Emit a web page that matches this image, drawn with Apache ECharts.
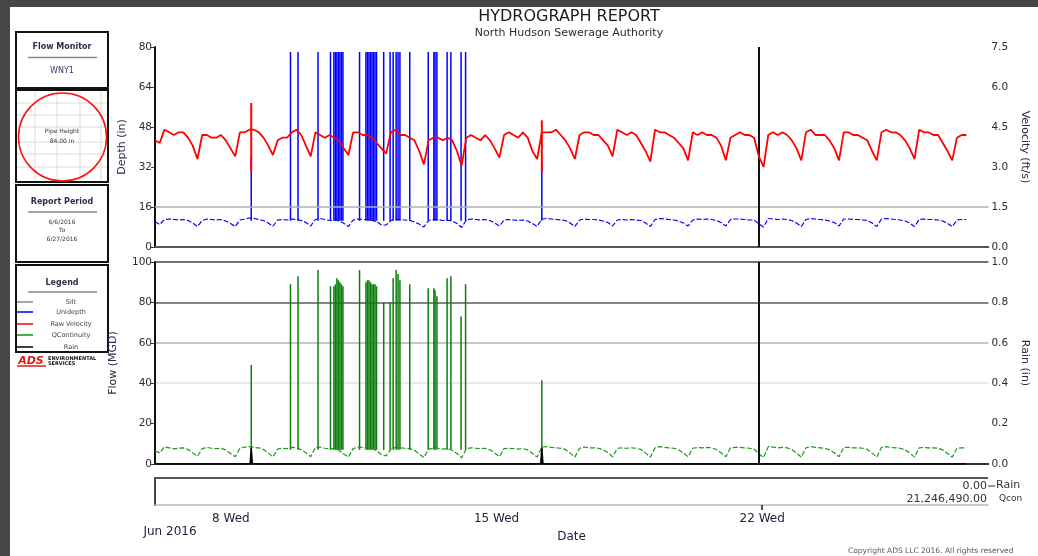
<!DOCTYPE html>
<html><head><meta charset="utf-8">
<script src="https://cdn.jsdelivr.net/npm/echarts@6/dist/echarts.min.js"></script>
<style>
html,body{margin:0;padding:0;background:#464646;width:1038px;height:556px;overflow:hidden;}
#sheet{position:absolute;left:10px;top:7px;width:1028px;height:549px;background:#fff;}
#chart{position:absolute;left:0;top:0;width:1038px;height:556px;}
</style></head><body>
<div id="sheet"></div><div id="chart"></div>
<script>
// ---------- DATA ----------
// Regular samples every 3 hours, starting June 6 00:00 (x = day of June)
const dayStart = 6;
const stepHours = 3;

// Velocity (ft/s), one row per day: 00,03,06,09,12,15,18,21 h
const velocity = [
  4.0, 3.9, 4.4, 4.3, 4.2, 4.3, 4.3, 4.1,
  3.8, 3.3, 4.2, 4.2, 4.1, 4.1, 4.2, 4.0,
  3.7, 3.4, 4.3, 4.3, 4.4, 4.4, 4.3, 4.1,
  3.8, 3.45, 4.0, 4.1, 4.1, 4.3, 4.4, 4.2,
  3.8, 3.4, 4.3, 4.2, 4.1, 4.2, 4.1, 4.0,
  3.7, 3.45, 4.3, 4.3, 4.2, 4.2, 4.1, 3.9,
  3.7, 3.5, 4.3, 4.4, 4.2, 4.2, 4.1, 4.0,
  3.6, 3.1, 4.0, 4.1, 4.1, 4.0, 4.1, 4.0,
  3.6, 3.05, 4.1, 4.2, 4.1, 4.0, 4.2, 4.0,
  3.7, 3.35, 4.2, 4.3, 4.2, 4.1, 4.3, 4.1,
  3.6, 3.3, 4.3, 4.3, 4.3, 4.4, 4.2, 4.0,
  3.7, 3.3, 4.2, 4.3, 4.3, 4.2, 4.2, 4.0,
  3.8, 3.4, 4.4, 4.3, 4.2, 4.3, 4.2, 3.9,
  3.6, 3.2, 4.4, 4.3, 4.3, 4.2, 4.1, 3.9,
  3.7, 3.25, 4.3, 4.2, 4.3, 4.2, 4.2, 4.1,
  3.8, 3.25, 4.1, 4.2, 4.3, 4.2, 4.2, 4.1,
  3.4, 3.0, 4.2, 4.3, 4.2, 4.3, 4.2, 4.0,
  3.7, 3.25, 4.3, 4.4, 4.2, 4.2, 4.2, 4.0,
  3.7, 3.25, 4.3, 4.3, 4.2, 4.2, 4.1, 4.0,
  3.6, 3.25, 4.3, 4.4, 4.3, 4.3, 4.2, 4.0,
  3.7, 3.3, 4.4, 4.3, 4.3, 4.2, 4.2, 3.9,
  3.6, 3.25, 4.1, 4.2, 4.2
];

// Depth (in)
const depth = [
  10.2, 9.0, 11.0, 11.2, 11.0, 10.8, 11.0, 10.6,
  9.6, 8.2, 10.6, 11.2, 11.0, 10.8, 11.0, 10.4,
  9.4, 8.2, 10.8, 11.2, 11.6, 11.4, 11.0, 10.6,
  9.6, 8.3, 10.8, 11.0, 10.8, 11.2, 11.0, 10.6,
  9.8, 8.4, 11.0, 11.4, 11.0, 10.6, 10.8, 10.4,
  9.5, 8.2, 10.8, 11.2, 11.0, 11.0, 10.6, 10.2,
  8.8, 8.8, 10.6, 11.2, 11.0, 10.8, 10.6, 10.0,
  9.2, 8.0, 10.6, 11.0, 11.0, 10.6, 10.8, 10.4,
  9.4, 7.8, 10.8, 11.2, 11.0, 10.8, 11.0, 10.6,
  9.6, 8.4, 10.8, 11.0, 10.8, 10.6, 10.8, 10.4,
  9.4, 8.2, 11.2, 11.4, 11.2, 11.0, 10.8, 10.6,
  9.6, 8.2, 10.8, 11.2, 11.0, 11.0, 10.8, 10.4,
  9.8, 8.4, 10.8, 11.0, 10.8, 11.0, 10.8, 10.6,
  9.6, 8.2, 11.0, 11.4, 11.2, 11.0, 10.8, 10.4,
  9.6, 8.4, 10.8, 11.2, 11.0, 11.2, 11.0, 10.6,
  9.8, 8.4, 11.0, 11.2, 11.2, 11.0, 10.8, 10.8,
  9.2, 8.0, 11.4, 11.2, 11.0, 11.2, 11.0, 10.6,
  9.6, 8.2, 11.0, 11.4, 11.2, 11.0, 10.8, 10.4,
  9.8, 8.4, 11.2, 11.2, 11.0, 11.0, 10.8, 10.6,
  9.6, 8.2, 11.2, 11.4, 11.2, 11.0, 10.8, 10.4,
  9.6, 8.2, 11.0, 11.2, 11.0, 11.0, 10.8, 10.4,
  9.4, 8.2, 10.8, 11.0, 11.0
];

// Flow (MGD)
const flow = [
  6.5, 5.5, 8.5, 8.0, 7.5, 7.8, 8.0, 7.2,
  5.5, 3.8, 7.6, 8.2, 7.8, 7.6, 7.8, 7.0,
  5.2, 3.6, 7.8, 8.4, 8.6, 8.2, 8.0, 7.2,
  5.4, 3.5, 7.4, 7.8, 7.6, 8.2, 8.0, 7.0,
  5.6, 3.6, 8.2, 8.4, 7.8, 7.6, 7.6, 6.8,
  5.0, 3.4, 7.6, 8.4, 8.2, 8.0, 7.6, 6.6,
  4.6, 4.0, 7.4, 8.2, 8.0, 7.8, 7.6, 6.8,
  5.0, 3.2, 7.4, 7.8, 7.8, 7.4, 7.6, 6.8,
  5.2, 3.0, 7.6, 8.0, 7.8, 7.6, 7.8, 7.0,
  5.4, 3.6, 7.6, 7.8, 7.6, 7.4, 7.6, 7.0,
  5.2, 3.4, 8.4, 8.6, 8.2, 8.0, 7.8, 7.2,
  5.4, 3.4, 7.8, 8.4, 8.0, 8.0, 7.8, 7.0,
  5.6, 3.6, 7.8, 8.0, 7.8, 8.0, 7.8, 7.2,
  5.4, 3.4, 8.0, 8.6, 8.2, 8.0, 7.8, 7.0,
  5.4, 3.6, 7.8, 8.2, 8.0, 8.2, 8.0, 7.2,
  5.6, 3.6, 8.0, 8.2, 8.2, 8.0, 7.8, 7.4,
  5.0, 3.2, 8.6, 8.4, 8.0, 8.2, 8.0, 7.2,
  5.4, 3.4, 8.0, 8.6, 8.2, 8.0, 7.8, 7.0,
  5.6, 3.6, 8.2, 8.2, 8.0, 8.0, 7.8, 7.2,
  5.4, 3.4, 8.2, 8.6, 8.2, 8.0, 7.8, 7.0,
  5.4, 3.4, 8.0, 8.2, 8.0, 8.0, 7.8, 7.0,
  5.2, 3.4, 7.8, 8.0, 8.0
];

// Single-sample excursions during June 9-14 (day of June)
const spikeDays  = [9.59, 9.79, 10.32, 10.65, 10.74, 10.78, 10.82, 10.86, 10.90, 10.94, 10.98,
                    11.42, 11.59, 11.63, 11.67, 11.71, 11.75, 11.79, 11.83, 11.87,
                    12.06, 12.23, 12.31, 12.39, 12.44, 12.49, 12.75,
                    13.24, 13.39, 13.42, 13.47, 13.74, 13.84, 14.11, 14.23];
const spikeDepth = [78, 78, 78, 78, 78, 78, 78, 78, 78, 78, 78,
                    78, 78, 78, 78, 78, 78, 78, 78, 78,
                    78, 78, 78, 78, 78, 78, 78,
                    78, 78, 78, 78, 78, 78, 78, 78];
const spikeFlow  = [89, 93, 96, 88, 88, 89, 92, 91, 90, 89, 88,
                    96, 90, 91, 91, 90, 89, 89, 89, 88,
                    80, 80, 92, 96, 94, 91, 89,
                    87, 87, 86, 83, 92, 93, 73, 89];
const spikeDepthLow = 10.5;
const spikeFlowLow = 7;

// Two short events (June 8 and June 16)
const eventDays      = [8.55, 16.25];
const eventDepthHigh = [36, 34];
const eventFlowHigh  = [49, 41.5];
const eventVelLow    = [2.8, 2.8];
const eventVelHigh   = [5.4, 4.75];

// Rain (in)
const rainDays   = [6.0, 8.52, 8.55, 8.58, 16.22, 16.25, 16.28, 27.5];
const rainValues = [0, 0, 0.08, 0, 0, 0.08, 0, 0];

const siltLevel = 16;     // in
const cursorDay = 22;     // vertical marker
const xTickDays   = [8, 15, 22];
const xTickLabels = ['8 Wed', '15 Wed', '22 Wed'];
const legendNames = ['Silt', 'Unidepth', 'Raw Velocity', 'QContinuity', 'Rain'];
const totalRain = '0.00';
const totalQcon = '21,246,490.00';

// ---------- CHART ----------
const toXY = arr => arr.map((v, i) => [dayStart + i * stepHours / 24, v]);
const FONT = 'DejaVu Sans';
const LBL = '#2b2b3b';

function spikeRenderer(width) {
  return function (params, api) {
    const a = api.coord([api.value(0), api.value(1)]);
    const b = api.coord([api.value(0), api.value(2)]);
    return { type: 'line', shape: { x1: a[0], y1: a[1], x2: b[0], y2: b[1] },
             style: { stroke: api.visual('color'), lineWidth: width } };
  };
}

const chart = echarts.init(document.getElementById('chart'), null, { renderer: 'canvas' });

const xBase = { type: 'value', min: 6, max: 28.0833, splitLine: { show: false },
  axisTick: { show: false }, axisLabel: { show: false } };

function txt(x, y, text, font, fill, align) {
  return { type: 'text', x: x, y: y, silent: true,
    style: { text: text, font: font, fill: fill || '#222', align: align || 'center', verticalAlign: 'middle',
             textAlign: align || 'center', textVerticalAlign: 'middle' } };
}
function ln(x1, y1, x2, y2, color, w) {
  return { type: 'line', silent: true, shape: { x1, y1, x2, y2 }, style: { stroke: color, lineWidth: w || 1 } };
}
function box(x, y, w, h) {
  return { type: 'rect', silent: true, shape: { x, y, width: w, height: h }, style: { fill: '#fff', stroke: '#111', lineWidth: 2 } };
}

const graphics = [
  txt(569, 17, 'HYDROGRAPH REPORT', '16px ' + FONT, '#1c1c1c'),
  txt(569, 33, 'North Hudson Sewerage Authority', '11px ' + FONT, '#2a2a3a'),
  // panel boxes
  box(16, 32, 92, 56), box(16, 90, 92, 92), box(16, 185, 92, 77), box(16, 265, 92, 87),
  txt(62, 47, 'Flow Monitor', 'bold 8px ' + FONT, '#2d2d4d'),
  ln(28, 57.5, 97, 57.5, '#888', 1.5),
  txt(62, 71, 'WNY1', '8px ' + FONT, '#3a3a6a'),
];
// box 2 grid
[35, 57, 80, 101].forEach(x => graphics.push(ln(x, 91, x, 181, '#dcdcdc', 1)));
[103, 115, 127, 142, 154, 167].forEach(y => graphics.push(ln(17, y, 107, y, '#dcdcdc', 1)));
graphics.push({ type: 'circle', silent: true, shape: { cx: 62.5, cy: 137, r: 44 }, style: { fill: 'none', stroke: '#ff1010', lineWidth: 1.5 } });
graphics.push(txt(62, 131, 'Pipe Height', '6px ' + FONT, '#333'));
graphics.push(txt(62, 141, '84.00 in', '6px ' + FONT, '#333'));
// box 3
graphics.push(txt(62, 202, 'Report Period', 'bold 8px ' + FONT, '#2d2d4d'));
graphics.push(ln(28, 212, 97, 212, '#888', 1.5));
graphics.push(txt(62, 222, '6/6/2016', '6px ' + FONT, '#333'));
graphics.push(txt(62, 230.5, 'To', '6px ' + FONT, '#333'));
graphics.push(txt(62, 239, '6/27/2016', '6px ' + FONT, '#333'));
// box 4 legend
graphics.push(txt(62, 283, 'Legend', 'bold 8px ' + FONT, '#2d2d4d'));
graphics.push(ln(28, 292, 97, 292, '#888', 1.5));
const legendColors = ['#888888', '#0000ff', '#ff0000', '#109010', '#000000'];
const legendY = [302, 312, 324, 335, 347];
legendNames.forEach((n, i) => {
  graphics.push(ln(17, legendY[i], 33, legendY[i], legendColors[i], 1.5));
  graphics.push(txt(71, legendY[i], n, '6.5px ' + FONT, '#444'));
});
// logo
graphics.push(txt(31, 361, 'ADS', 'italic bold 11px ' + FONT, '#e01818'));
graphics.push(ln(17, 366, 46, 366, '#e01818', 1.5));
graphics.push(txt(48, 358.5, 'ENVIRONMENTAL', 'bold 5px ' + FONT, '#111', 'left'));
graphics.push(txt(48, 364, 'SERVICES', 'bold 5px ' + FONT, '#111', 'left'));
// strip totals
graphics.push(txt(987, 486, totalRain, '11px ' + FONT, '#333', 'right'));
graphics.push(ln(988, 486, 995, 486, '#333', 1));
graphics.push(txt(996, 485, 'Rain', '11px ' + FONT, '#333', 'left'));
graphics.push(txt(987, 499, totalQcon, '11px ' + FONT, '#333', 'right'));
graphics.push(txt(999, 499, 'Qcon', '9px ' + FONT, '#333', 'left'));
graphics.push(txt(170, 532, 'Jun 2016', '12px ' + FONT, '#23233f'));
graphics.push(txt(848, 551, 'Copyright ADS LLC 2016. All rights reserved', '7.5px ' + FONT, '#556', 'left'));

const option = {
  animation: false,
  backgroundColor: 'transparent',
  textStyle: { fontFamily: FONT },
  graphic: graphics,
  grid: [
    { left: 155, right: 45, top: 47, height: 200 },
    { left: 155, right: 45, top: 262, height: 202 },
    { left: 155, right: 50, top: 478, height: 27 }
  ],
  xAxis: [
    Object.assign({}, xBase, { gridIndex: 0, axisLine: { lineStyle: { color: '#555', width: 2 } } }),
    Object.assign({}, xBase, { gridIndex: 1, axisLine: { lineStyle: { color: '#333', width: 2 } } }),
    { type: 'value', gridIndex: 2, min: 6, max: 27.95, splitLine: { show: false },
      axisLine: { lineStyle: { color: '#bbb', width: 1.5 } },
      axisTick: { show: true, customValues: [cursorDay], length: 5, lineStyle: { color: '#111', width: 1.5 } },
      axisLabel: { customValues: xTickDays, margin: 8, fontSize: 12, color: '#23233f',
        formatter: v => xTickLabels[xTickDays.indexOf(Math.round(v))] || '' },
      name: 'Date', nameLocation: 'middle', nameGap: 26, nameTextStyle: { fontSize: 12, color: '#23233f' } }
  ],
  yAxis: [
    { type: 'value', gridIndex: 0, position: 'left', min: 0, max: 80, interval: 16,
      axisLine: { show: true, lineStyle: { color: '#111', width: 2 } },
      axisTick: { show: true, length: 4, lineStyle: { color: '#333' } },
      axisLabel: { fontSize: 10.5, color: LBL, margin: 3 }, splitLine: { show: false },
      name: 'Depth (in)', nameLocation: 'middle', nameGap: 24, nameRotate: 90,
      nameTextStyle: { fontSize: 11, color: '#2a2a4a' } },
    { type: 'value', gridIndex: 0, position: 'right', min: 0, max: 7.5, interval: 1.5,
      axisLine: { show: false }, axisTick: { show: false }, splitLine: { show: false },
      axisLabel: { fontSize: 10.5, color: LBL, margin: 3, formatter: v => v.toFixed(1) },
      name: 'Velocity (ft/s)', nameLocation: 'middle', nameGap: 26, nameRotate: -90,
      nameTextStyle: { fontSize: 11, color: '#2a2a4a' } },
    { type: 'value', gridIndex: 1, position: 'left', min: 0, max: 100, interval: 20,
      axisLine: { show: true, lineStyle: { color: '#111', width: 2 } },
      axisTick: { show: true, length: 4, lineStyle: { color: '#333' } },
      axisLabel: { fontSize: 10.5, color: LBL, margin: 3 },
      splitLine: { show: true, lineStyle: { width: 1.5,
        color: ['rgba(0,0,0,0)', 'rgba(0,0,0,0)', '#e2e2e2', '#b4b4b4', '#5a5a5a', '#444'] } },
      name: 'Flow (MGD)', nameLocation: 'middle', nameGap: 36, nameRotate: 90,
      nameTextStyle: { fontSize: 11, color: '#2a2a4a' } },
    { type: 'value', gridIndex: 1, position: 'right', min: 0, max: 1, interval: 0.2,
      axisLine: { show: false }, axisTick: { show: false }, splitLine: { show: false },
      axisLabel: { fontSize: 10.5, color: LBL, margin: 3, formatter: v => v.toFixed(1) },
      name: 'Rain (in)', nameLocation: 'middle', nameGap: 26, nameRotate: -90,
      nameTextStyle: { fontSize: 11, color: '#2a2a4a' } },
    { type: 'value', gridIndex: 2, min: 0, max: 1, interval: 1,
      axisLine: { show: true, lineStyle: { color: '#444', width: 2 } },
      axisTick: { show: false }, axisLabel: { show: false },
      splitLine: { show: true, lineStyle: { width: 2, color: ['rgba(0,0,0,0)', '#555'] } } }
  ],
  series: [
    { name: 'Unidepth', type: 'line', xAxisIndex: 0, yAxisIndex: 0, data: toXY(depth),
      symbol: 'none', z: 3, lineStyle: { color: '#0000ff', width: 1.2, type: [5, 2] },
      markLine: { silent: true, symbol: ['none', 'none'], label: { show: false },
        data: [ { yAxis: siltLevel, lineStyle: { color: '#b0b0b0', width: 1.5, type: 'solid' } },
                { xAxis: cursorDay, lineStyle: { color: '#111', width: 2, type: 'solid' } } ] } },
    { type: 'custom', xAxisIndex: 0, yAxisIndex: 0, z: 3, itemStyle: { color: '#0000ff' },
      renderItem: spikeRenderer(1.5), encode: { x: 0, y: [1, 2] },
      data: spikeDays.map((d, i) => [d, spikeDepthLow, spikeDepth[i]]) },
    { type: 'custom', xAxisIndex: 0, yAxisIndex: 0, z: 3, itemStyle: { color: '#0000ff' },
      renderItem: spikeRenderer(1.5), encode: { x: 0, y: [1, 2] },
      data: eventDays.map((d, i) => [d, spikeDepthLow, eventDepthHigh[i]]) },
    { name: 'Raw Velocity', type: 'line', xAxisIndex: 0, yAxisIndex: 1, data: toXY(velocity),
      symbol: 'none', z: 5, lineStyle: { color: '#ff0000', width: 1.8 } },
    { type: 'custom', xAxisIndex: 0, yAxisIndex: 1, z: 5, itemStyle: { color: '#ff0000' },
      renderItem: spikeRenderer(2), encode: { x: 0, y: [1, 2] },
      data: eventDays.map((d, i) => [d, eventVelLow[i], eventVelHigh[i]]) },
    { name: 'QContinuity', type: 'line', xAxisIndex: 1, yAxisIndex: 2, data: toXY(flow),
      symbol: 'none', z: 3, lineStyle: { color: '#1a9a1a', width: 1.2, type: [5, 2] },
      markLine: { silent: true, symbol: ['none', 'none'], label: { show: false },
        data: [ { xAxis: cursorDay, lineStyle: { color: '#111', width: 2, type: 'solid' } } ] } },
    { type: 'custom', xAxisIndex: 1, yAxisIndex: 2, z: 3, itemStyle: { color: '#0a7e0a' },
      renderItem: spikeRenderer(1.5), encode: { x: 0, y: [1, 2] },
      data: spikeDays.map((d, i) => [d, spikeFlowLow, spikeFlow[i]]) },
    { type: 'custom', xAxisIndex: 1, yAxisIndex: 2, z: 3, itemStyle: { color: '#0a7e0a' },
      renderItem: spikeRenderer(1.5), encode: { x: 0, y: [1, 2] },
      data: eventDays.map((d, i) => [d, spikeFlowLow, eventFlowHigh[i]]) },
    { name: 'Rain', type: 'line', xAxisIndex: 1, yAxisIndex: 3,
      data: rainDays.map((d, i) => [d, rainValues[i]]), symbol: 'none', z: 4,
      lineStyle: { color: '#000', width: 1.5 }, areaStyle: { color: '#000', opacity: 1 } }
  ]
};
chart.setOption(option);
</script></body></html>
